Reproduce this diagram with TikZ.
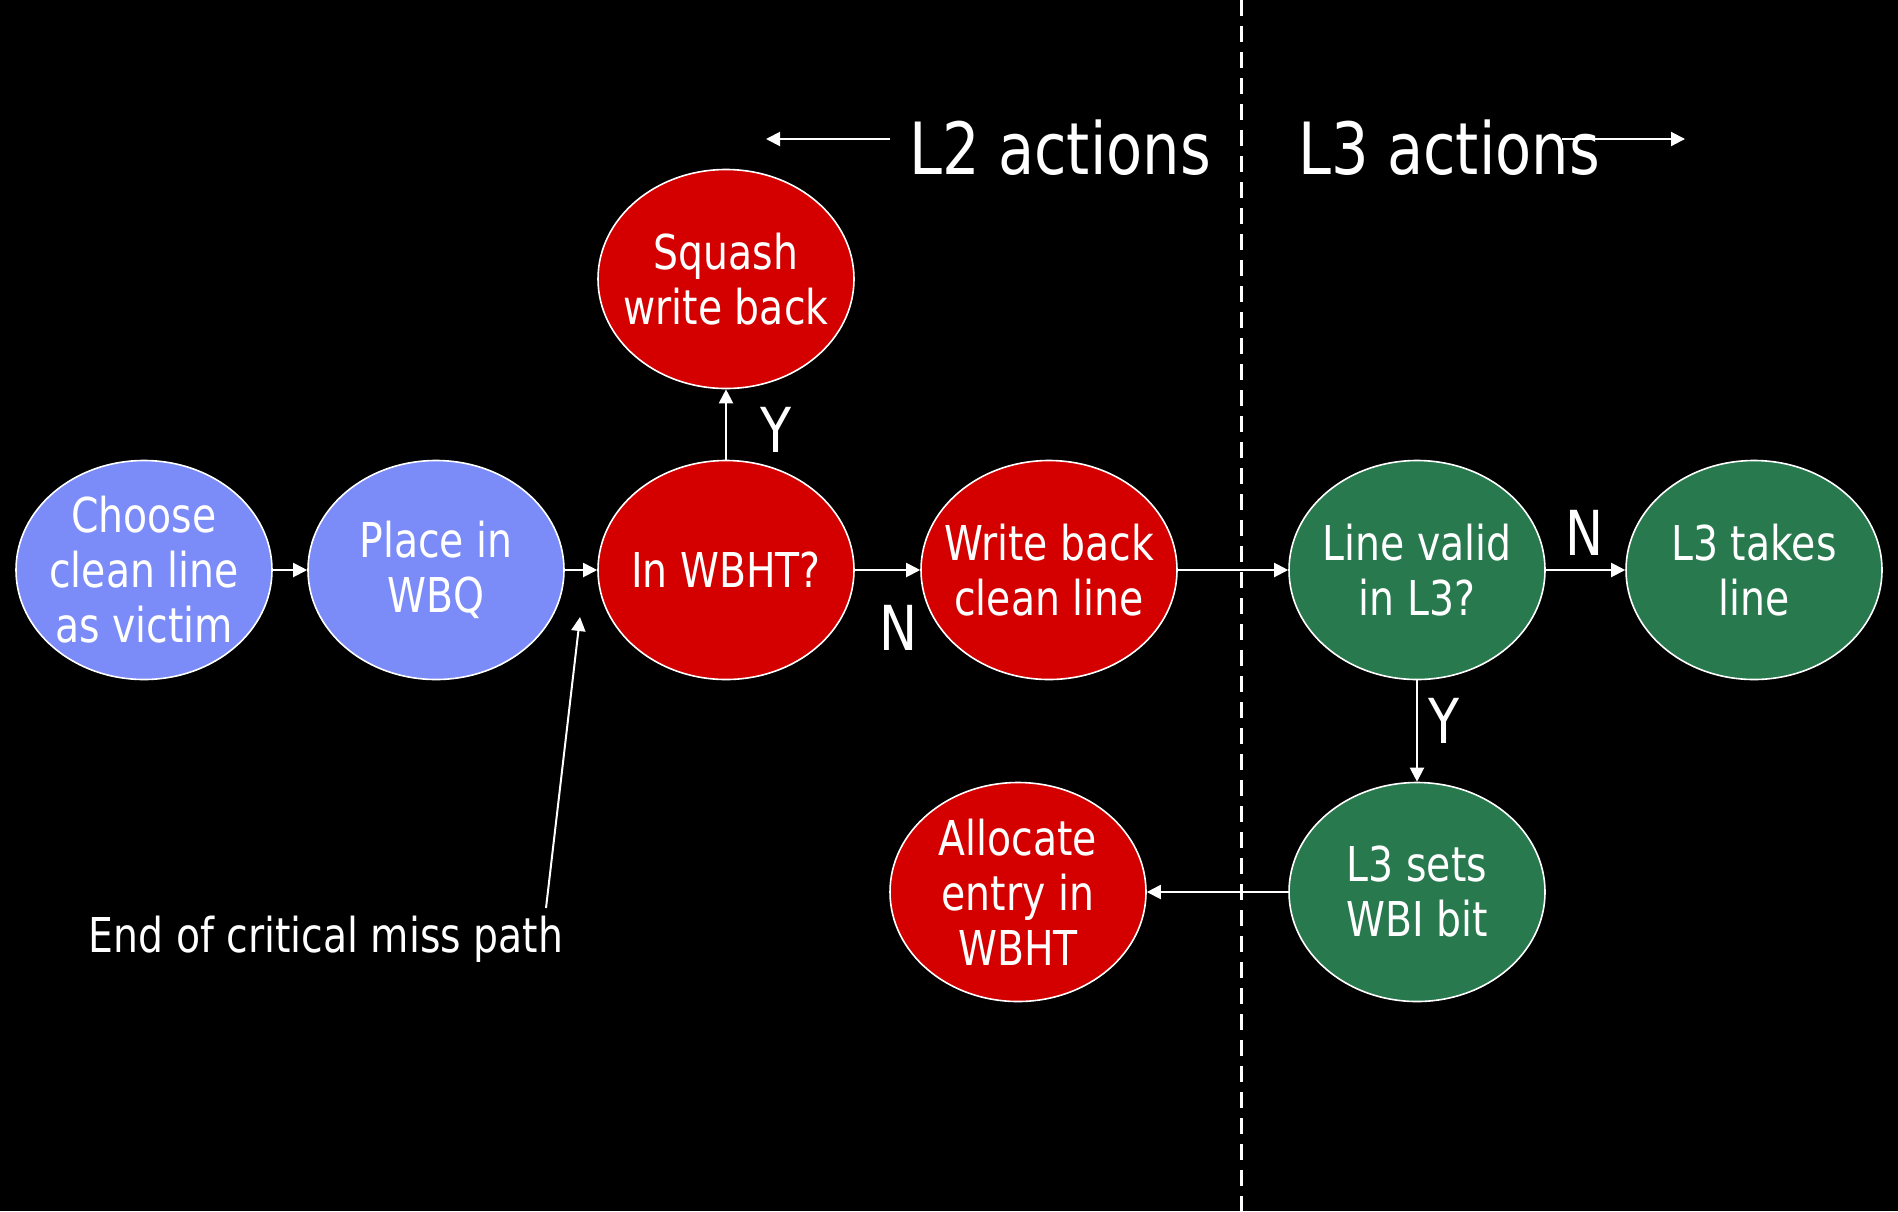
\documentclass[tikz,border=0pt]{standalone}
\usepackage{fontspec}
\setmainfont{DejaVu Sans}[FakeStretch=0.82]
\usetikzlibrary{shapes.geometric,arrows.meta}
\definecolor{bluefill}{RGB}{123,139,247}
\definecolor{redfill}{RGB}{212,0,0}
\definecolor{greenfill}{RGB}{40,122,78}
\begin{document}
\begin{tikzpicture}[x=0.5pt,y=-0.5pt,
  bubtext/.style={text=white, align=center, inner sep=0pt, font=\fontsize{24}{27.5}\selectfont},
  bub/.style={ellipse, draw=white, line width=0.8pt, minimum width=128pt, minimum height=109.5pt, inner sep=0pt, label={[bubtext]center:#1}},
  bluebub/.style={bub={#1}, fill=bluefill},
  redbub/.style={bub={#1}, fill=redfill},
  greenbub/.style={bub={#1}, fill=greenfill},
  conn/.style={draw=white, line width=1pt, -{Triangle[length=7pt,width=7pt]}},
  big/.style={text=white, inner sep=0pt, font=\fontsize{36}{40}\selectfont},
  yn/.style={text=white, inner sep=0pt, font=\fontsize{31}{34}\selectfont},
  note/.style={text=white, inner sep=0pt, font=\fontsize{24}{27}\selectfont}]
\fill[black] (0,0) rectangle (1898,1211);
\useasboundingbox (0,0) rectangle (1898,1211);

% divider
\draw[white, line width=1.5pt, dash pattern=on 8pt off 5pt] (1241,0) -- (1241,1211);

% headings
\node[big] (l2) at (1060,148) {L2 actions};
\node[big] (l3) at (1449,148) {L3 actions};
\coordinate (l2s) at (890,139);
\coordinate (l2e) at (766,139);
\coordinate (l3s) at (1562,139);
\coordinate (l3e) at (1685,139);
\draw[conn] (l2s) -- (l2e);
\draw[conn] (l3s) -- (l3e);

% bubbles
\node[bluebub={Choose\\clean line\\as victim}] (choose) at (144,570) {};
\node[bluebub={Place in\\WBQ}] (place) at (436,570) {};
\node[redbub={In WBHT?}] (inwbht) at (726,570) {};
\node[redbub={Squash\\write back}] (squash) at (726,279) {};
\node[redbub={Write back\\clean line}] (wb) at (1049,570) {};
\node[greenbub={Line valid\\in L3?}] (valid) at (1417,570) {};
\node[greenbub={L3 takes\\line}] (takes) at (1754,570) {};
\node[greenbub={L3 sets\\WBI bit}] (sets) at (1417,892) {};
\node[redbub={Allocate\\entry in\\WBHT}] (alloc) at (1018,892) {};

% connectors
\draw[conn] (choose) -- (place);
\draw[conn] (place) -- (inwbht);
\draw[conn] (inwbht) -- (squash);
\draw[conn] (inwbht) -- (wb);
\draw[conn] (wb) -- (valid);
\draw[conn] (valid) -- (takes);
\draw[conn] (valid) -- (sets);
\draw[conn] (sets) -- (alloc);

% labels
\node[yn] (y1) at (776,430) {Y};
\node[yn] (n1) at (898,628) {N};
\node[yn] (n2) at (1584,533) {N};
\node[yn] (y2) at (1444,721) {Y};

% note
\node[note] (endnote) at (326,939) {End of critical miss path};
\coordinate (notestart) at (546,908);
\coordinate (notetip) at (580,617);
\draw[conn] (notestart) -- (notetip);
\end{tikzpicture}
\end{document}
